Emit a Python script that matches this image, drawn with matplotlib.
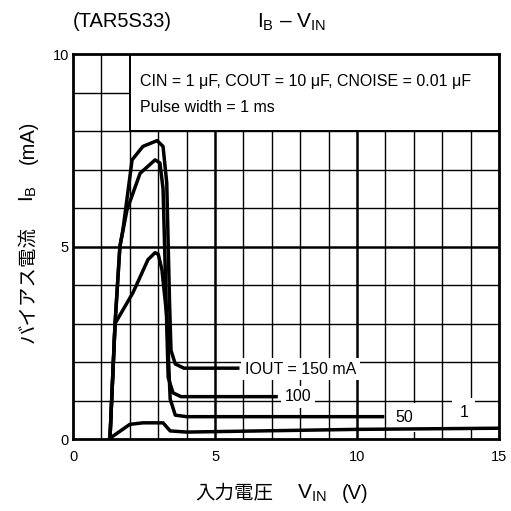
import matplotlib.pyplot as plt
from matplotlib.patches import Rectangle

plt.rcParams['font.family'] = ['Liberation Sans', 'Noto Sans CJK JP', 'DejaVu Sans']
plt.rcParams['mathtext.fontset'] = 'custom'
plt.rcParams['mathtext.rm'] = 'Liberation Sans'
plt.rcParams['mathtext.it'] = 'Liberation Sans'

# curve data (VIN in V, IB in mA)
v150 = [1.30, 1.48, 1.65, 1.76, 2.08, 2.46, 2.96, 3.17, 3.30, 3.40, 3.45, 3.60, 3.90, 5.80]
i150 = [0.0, 3.0, 5.0, 5.45, 7.25, 7.6, 7.75, 7.6, 6.65, 3.5, 2.3, 1.95, 1.84, 1.84]

v100 = [1.30, 1.48, 1.65, 1.90, 2.36, 2.89, 3.06, 3.17, 3.28, 3.35, 3.52, 3.80, 7.15]
i100 = [0.0, 3.0, 5.0, 5.95, 6.9, 7.25, 7.17, 6.5, 3.5, 1.6, 1.2, 1.10, 1.10]

v50 = [1.30, 1.48, 2.11, 2.64, 2.89, 3.00, 3.13, 3.30, 3.42, 3.60, 4.00, 10.9]
i50 = [0.0, 3.0, 3.8, 4.66, 4.84, 4.8, 4.4, 3.2, 1.04, 0.62, 0.58, 0.58]

v1 = [1.30, 2.00, 2.46, 3.17, 3.42, 4.00, 10.0, 15.0]
i1 = [0.02, 0.38, 0.42, 0.42, 0.21, 0.18, 0.25, 0.28]

curve_labels = ['IOUT = 150 mA', '100', '50', '1']

fig = plt.figure(figsize=(5.11, 5.11), dpi=100)
ax = fig.add_axes([0.1429, 0.1409, 0.8337, 0.7534])
ax.set_xlim(0, 15)
ax.set_ylim(0, 10)

# grid: thin every 1, thick every 5
for x in range(1, 15):
    ax.axvline(x, color='black', lw=1.8 if x % 5 == 0 else 1.0, zorder=1)
for y in range(1, 10):
    ax.axhline(y, color='black', lw=1.8 if y % 5 == 0 else 1.0, zorder=1)
for s in ax.spines.values():
    s.set_linewidth(2.0)

# condition box
ax.add_patch(Rectangle((2, 8), 13, 2, facecolor='white', edgecolor='black', lw=1.4, zorder=2))
ax.text(2.35, 9.28, 'CIN = 1 \u03bcF, COUT = 10 \u03bcF, CNOISE = 0.01 \u03bcF', fontsize=11.5, va='center', zorder=3)
ax.text(2.35, 8.62, 'Pulse width = 1 ms', fontsize=11.5, va='center', zorder=3)

for v, i in [(v150, i150), (v100, i100), (v50, i50), (v1, i1)]:
    ax.plot(v, i, color='black', lw=2.5, solid_joinstyle='round', zorder=4)

box = dict(facecolor='white', edgecolor='none', pad=2.5)
ax.text(6.05, 1.81, curve_labels[0], fontsize=11.5, va='center', bbox=box, zorder=3)
ax.text(7.45, 1.10, curve_labels[1], fontsize=11.5, va='center', bbox=box, zorder=3)
ax.text(11.35, 0.55, curve_labels[2], fontsize=11.5, va='center', bbox=dict(facecolor='white', edgecolor='none', pad=5), zorder=3)
ax.text(13.6, 0.68, curve_labels[3], fontsize=11.5, va='center', bbox=dict(facecolor='white', edgecolor='none', pad=5), zorder=3)

ax.set_xticks([0, 5, 10, 15])
ax.set_yticks([0, 5, 10])
ax.tick_params(length=0, labelsize=10.5)
ax.tick_params(axis='x', pad=8)
ax.tick_params(axis='y', pad=3)

# axis labels built from pieces so the CJK text keeps its own font
cjk = ['Noto Sans CJK JP', 'DejaVu Sans']
t = fig.text(0.382, 0.035, '入力電圧', fontsize=14, family=cjk, va='center')
t = ax.annotate('V$_\\mathrm{IN}$', xy=(1, 0.5), xycoords=t, xytext=(17, 0), textcoords='offset points',
                fontsize=15, va='center', ha='left')
ax.annotate('(V)', xy=(1, 0.5), xycoords=t, xytext=(11, 0), textcoords='offset points',
            fontsize=14.5, va='center', ha='left')

t = fig.text(0.055, 0.329, 'バイアス電流', fontsize=14, family=cjk, rotation=90, ha='center', va='bottom')
t = ax.annotate('I$_\\mathrm{B}$', xy=(0.5, 1), xycoords=t, xytext=(0, 17), textcoords='offset points',
                fontsize=15, rotation=90, ha='center', va='bottom')
ax.annotate('(mA)', xy=(0.5, 1), xycoords=t, xytext=(0, 15), textcoords='offset points',
            fontsize=14.5, rotation=90, ha='center', va='bottom')

fig.text(0.143, 0.957, '(TAR5S33)', fontsize=14.5, va='center')
fig.text(0.503, 0.957, 'I$_\\mathrm{B}$ \u2013 V$_\\mathrm{IN}$', fontsize=15, va='center')

fig.savefig('out.png', dpi=100)
